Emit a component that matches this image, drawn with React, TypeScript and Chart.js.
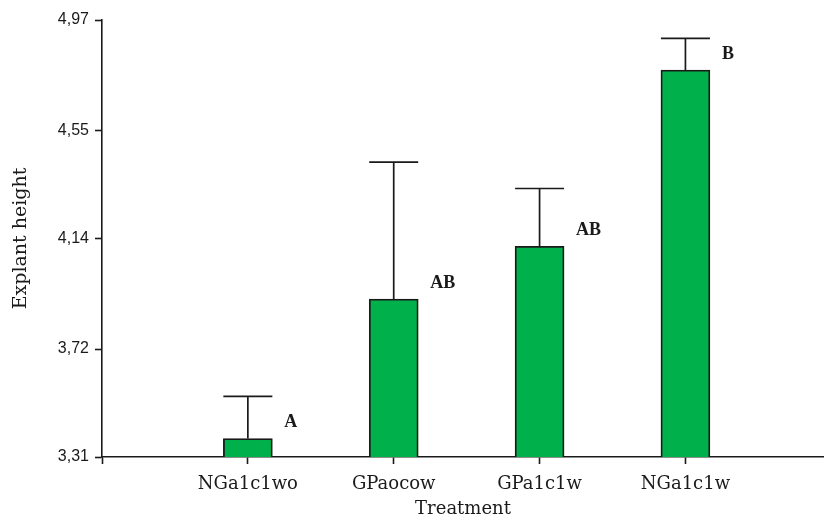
import React, { useEffect, useRef } from 'react';
import { Chart, registerables } from 'chart.js';

Chart.register(...registerables);

// Treatments and measured explant height (mean with upper standard-error bar)
const treatments = ['NGa1c1wo', 'GPaocow', 'GPa1c1w', 'NGa1c1w'];
const meanHeight = [3.38, 3.91, 4.11, 4.78];
const stdError = [0.16, 0.52, 0.22, 0.12];
const groupLetters = ['A', 'AB', 'AB', 'B'];

// Y axis ticks and their printed labels (comma decimals)
const yTickValues = [3.31, 3.72, 4.14, 4.55, 4.97];
const yTickLabels = ['3,31', '3,72', '4,14', '4,55', '4,97'];

const INK = '#1a1a1a';
const BAR_GREEN = '#00b04a';

// Draws the upper error whisker with a cap and the significance letter beside each bar
const errorBarPlugin = {
  id: 'errorBars',
  afterDatasetsDraw(chart: any) {
    const { ctx } = chart;
    const meta = chart.getDatasetMeta(0);
    const yScale = chart.scales.y;
    ctx.save();
    meta.data.forEach((bar: any, i: number) => {
      const top = yScale.getPixelForValue(meanHeight[i] + stdError[i]);
      const half = bar.width / 2;
      ctx.strokeStyle = INK;
      ctx.lineWidth = 1.7;
      ctx.beginPath();
      ctx.moveTo(bar.x, bar.y);
      ctx.lineTo(bar.x, top);
      ctx.moveTo(bar.x - half, top);
      ctx.lineTo(bar.x + half, top);
      ctx.stroke();

      ctx.fillStyle = INK;
      ctx.font = 'bold 18px "Liberation Serif", serif';
      ctx.textAlign = 'left';
      ctx.textBaseline = 'middle';
      ctx.fillText(groupLetters[i], bar.x + half + 12, bar.y - 16);
    });
    ctx.restore();
  },
};

export default function App() {
  const canvasRef = useRef<HTMLCanvasElement | null>(null);

  useEffect(() => {
    if (!canvasRef.current) return;
    const chart = new Chart(canvasRef.current, {
      type: 'bar',
      data: {
        datasets: [
          {
            label: 'Explant height',
            data: meanHeight.map((v, i) => ({ x: i + 1, y: v })),
            backgroundColor: BAR_GREEN,
            borderColor: INK,
            borderWidth: 1.8,
            borderSkipped: false,
            barThickness: 49,
          },
        ],
      },
      options: {
        animation: false,
        responsive: false,
        devicePixelRatio: 1,
        layout: { padding: { top: 20, right: 0, left: 0, bottom: 0 } },
        plugins: {
          legend: { display: false },
          tooltip: { enabled: false },
        },
        scales: {
          x: {
            type: 'linear',
            min: 0,
            max: 4.95,
            offset: false,
            afterBuildTicks(scale: any) {
              scale.ticks = [0, 1, 2, 3, 4].map((v) => ({ value: v }));
            },
            afterFit(scale: any) {
              scale.height = 63;
            },
            ticks: {
              autoSkip: false,
              maxRotation: 0,
              padding: 10,
              color: INK,
              font: { family: '"DejaVu Serif", serif', size: 18 },
              callback: (value: any) => (value >= 1 ? treatments[value - 1] : ''),
            },
            grid: {
              offset: false,
              drawOnChartArea: false,
              color: INK,
              tickLength: 7,
              tickWidth: 1.6,
            },
            border: { display: true, color: INK, width: 1.6 },
            title: {
              display: true,
              text: 'Treatment',
              color: INK,
              font: { family: '"DejaVu Serif", serif', size: 18 },
              padding: { top: 0, bottom: 0 },
            },
          },
          y: {
            type: 'linear',
            min: yTickValues[0],
            max: yTickValues[yTickValues.length - 1],
            afterBuildTicks(scale: any) {
              scale.ticks = yTickValues.map((v) => ({ value: v }));
            },
            afterFit(scale: any) {
              scale.width = 102;
            },
            ticks: {
              padding: 6,
              color: INK,
              font: { family: '"Liberation Sans", Arial, sans-serif', size: 16 },
              callback: (_value: any, index: number) => yTickLabels[index],
            },
            grid: {
              drawOnChartArea: false,
              color: INK,
              tickLength: 7,
              tickWidth: 1.6,
            },
            border: { display: true, color: INK, width: 1.6 },
            title: {
              display: true,
              text: 'Explant height',
              color: INK,
              font: { family: '"DejaVu Serif", serif', size: 19 },
              padding: { top: 10, bottom: 0 },
            },
          },
        },
      },
      plugins: [errorBarPlugin],
    });
    return () => chart.destroy();
  }, []);

  return (
    <div style={{ position: 'fixed', left: 0, top: 0, width: 824, height: 520, background: '#fff' }}>
      <canvas ref={canvasRef} width={824} height={520} />
    </div>
  );
}
